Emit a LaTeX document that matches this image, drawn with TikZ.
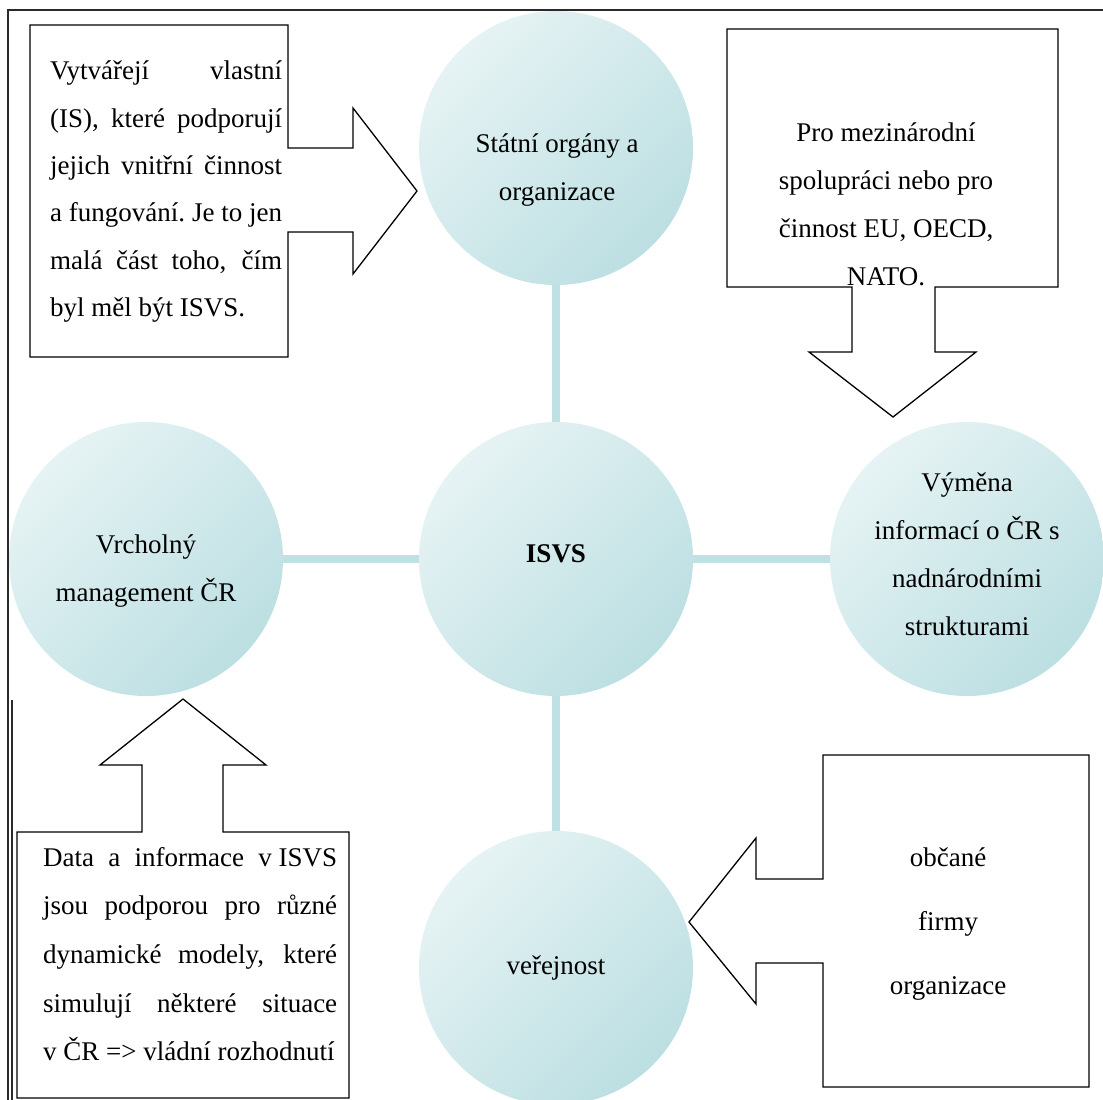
\documentclass[tikz,border=0pt]{standalone}
\usepackage{fontspec}
\setmainfont{Liberation Serif}
\usetikzlibrary{shadings}
\definecolor{orbLight}{HTML}{E6F3F4}
\definecolor{orbDark}{HTML}{BCDFE2}
\definecolor{linkTeal}{HTML}{BFE1E3}
\definecolor{frameGray}{HTML}{2A2A2A}
% a line of text spread to a fixed width, spaces stretching evenly
\newcommand{\jline}[2]{\hbox to #1{\spaceskip=.25em plus 3em minus .04em\xspaceskip=\spaceskip #2}}
% a line of text at its natural width
\newcommand{\nline}[1]{\hbox{#1}}
\tikzset{
  orb/.style={circle, inner sep=0pt, minimum size=274pt, shade,
    top color=orbLight, bottom color=orbDark, shading angle=45},
  link/.style={draw=linkTeal, line width=7.5pt},
  callout/.style={draw=black, fill=white, line width=1.3pt, line join=miter},
  txt/.style={inner sep=0pt, font=\fontsize{27}{48}\selectfont, align=center},
  boxtxt/.style={inner sep=0pt, font=\fontsize{27}{47.3}\selectfont},
}
\begin{document}
\begin{tikzpicture}[x=1pt, y=-1pt]
\useasboundingbox (0,0) rectangle (1103,1100);

% outer frame (runs off the right and bottom)
\draw[frameGray, line width=1.4pt] (8,1100) -- (8,10) -- (1103,10);
\draw[frameGray, line width=1.2pt] (12,700) -- (12,1100);

% circles
\node[orb] (stat) at (556,148) {};
\node[orb] (isvs) at (556,559) {};
\node[orb] (vrch) at (146,559) {};
\node[orb] (vym)  at (967,559) {};
\node[orb] (ver)  at (556,968) {};

% connectors between the hub and the outer circles
\draw[link] (stat) -- (isvs);
\draw[link] (vrch) -- (isvs);
\draw[link] (isvs) -- (vym);
\draw[link] (isvs) -- (ver);

% circle labels
\node[txt] (statT) at (557,170) {Státní orgány a\\organizace};
\node[txt, font=\fontsize{27}{48}\selectfont\bfseries] (isvsT) at (556,554) {ISVS};
\node[txt] (vrchT) at (146,571) {Vrcholný\\management ČR};
\node[txt] (vymT)  at (967,554) {Výměna\\informací o ČR s\\nadnárodními\\strukturami};
\node[txt] (verT)  at (556,968) {veřejnost};

% callout: arrow pointing right
\draw[callout] (30,25) -- (288,25) -- (288,148) -- (353,148) -- (353,108) -- (417,191)
  -- (353,274) -- (353,232) -- (288,232) -- (288,357) -- (30,357) -- cycle;
\node[boxtxt, anchor=north west] (leftT) at (50,61) {\vbox{%
  \jline{232pt}{Vytvářejí vlastní}
  \jline{232pt}{(IS), které podporují}
  \jline{232pt}{jejich vnitřní činnost}
  \jline{232pt}{a fungování. Je to jen}
  \jline{232pt}{malá část toho, čím}
  \nline{byl měl být ISVS.}}};

% callout: arrow pointing down
\draw[callout] (727,29) -- (1058,29) -- (1058,287) -- (935,287) -- (935,352) -- (976,352)
  -- (893,417) -- (809,352) -- (852,352) -- (852,287) -- (727,287) -- cycle;
\node[txt] (proT) at (886,204) {Pro mezinárodní\\spolupráci nebo pro\\činnost EU, OECD,\\NATO.};

% callout: arrow pointing up
\draw[callout] (17,832) -- (142,832) -- (142,765) -- (100,765) -- (183,699) -- (266,765)
  -- (223,765) -- (223,832) -- (349,832) -- (349,1098) -- (17,1098) -- cycle;
\node[boxtxt, anchor=north west, font=\fontsize{27}{48.6}\selectfont] (dataT) at (43,847) {\vbox{%
  \jline{294pt}{Data a informace \mbox{v ISVS}}
  \jline{294pt}{jsou podporou pro různé}
  \jline{294pt}{dynamické modely, které}
  \jline{294pt}{simulují některé situace}
  \nline{v ČR => vládní rozhodnutí}}};

% callout: arrow pointing left
\draw[callout] (823,755) -- (1089,755) -- (1089,1087) -- (823,1087) -- (823,963) -- (756,963)
  -- (756,1004) -- (689,922) -- (756,838) -- (756,879) -- (823,879) -- cycle;
\node[txt, font=\fontsize{27}{64}\selectfont] (obT) at (948,924) {občané\\firmy\\organizace};
\end{tikzpicture}
\end{document}
